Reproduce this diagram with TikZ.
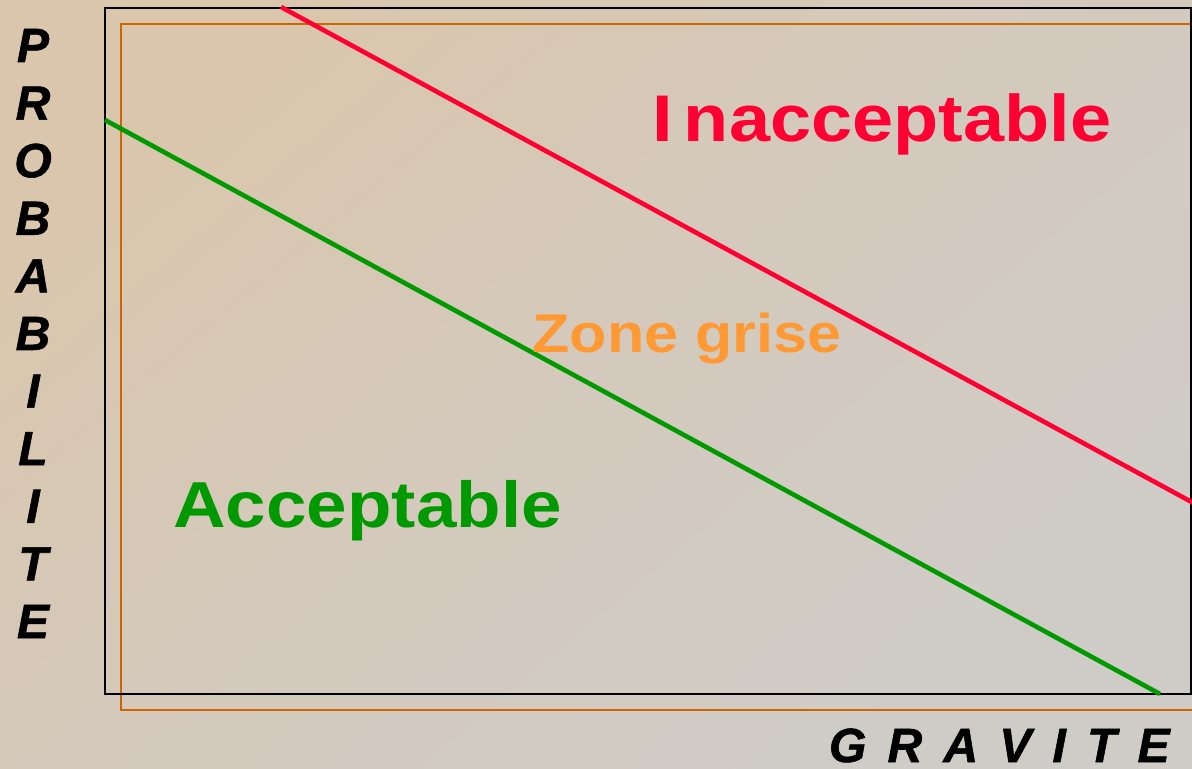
\documentclass[tikz,border=0pt]{standalone}
\usepackage{fontspec}
\setmainfont{Liberation Sans}
\newfontfamily\zonefont[FakeStretch=1.12]{Liberation Sans}
\newfontfamily\axisfont[FakeBold=1.2]{Liberation Sans}
\usetikzlibrary{positioning}
\definecolor{bgtan}{RGB}{218,198,172}
\definecolor{bggrey}{RGB}{207,204,200}
\definecolor{zonered}{RGB}{255,0,51}
\definecolor{zonegreen}{RGB}{0,153,0}
\definecolor{zoneorange}{RGB}{255,153,51}
\definecolor{frameorange}{RGB}{204,102,0}

\begin{document}
\begin{tikzpicture}[
    x=0.5pt, y=-0.5pt,
    frame/.style={draw=black, line width=1.2pt},
    offset/.style={draw=frameorange, line width=1.2pt},
    limit/.style={line width=2.3pt},
    zone/.style={font=\zonefont\fontsize{32.5}{36}\selectfont\bfseries, anchor=base west, inner sep=0pt},
    axislabel/.style={font=\axisfont\fontsize{24}{28.8}\selectfont\bfseries\itshape, inner sep=0pt},
]

% --- Background ---
\shade[top color=bgtan, bottom color=bggrey, middle color=bggrey!60!bgtan, shading angle=40]
    (0,0) rectangle (1192,769);
\useasboundingbox (0,0) rectangle (1192,769);
\clip (0,0) rectangle (1192,769);

% --- Frames ---
\draw[offset] (121,24) rectangle (1210,710);
\draw[frame] (105,8) rectangle (1191,694);

% --- Limit lines ---
\coordinate (redstart) at (281,7);
\coordinate (redend) at (1210,512);
\coordinate (greenstart) at (105,120);
\coordinate (greenend) at (1160,694);

\draw[limit, zonered] (redstart) -- (redend);
\draw[limit, zonegreen] (greenstart) -- (greenend);

% --- Zones ---
\node[zone, zonered, font=\zonefont\fontsize{33}{36}\selectfont\bfseries] (inacc) at (652,142) {I\kern5.5ptnacceptable};
\node[zone, zoneorange, font=\zonefont\fontsize{27.3}{30}\selectfont\bfseries] (grise) at (532,353) {Zone grise};
\node[zone, zonegreen] (acc) at (173,527) {Acceptable};

% --- Axes ---
\foreach \ch [count=\i from 0] in {P,R,O,B,A,B,I,L,I,T,E}
    \node[axislabel, anchor=base] (proba\i) at (33,62+57.6*\i) {\ch};
\node[axislabel, anchor=base east] (grav) at (1170,762) {\spaceskip=10.6pt\relax G R A V I T E};

\end{tikzpicture}
\end{document}
